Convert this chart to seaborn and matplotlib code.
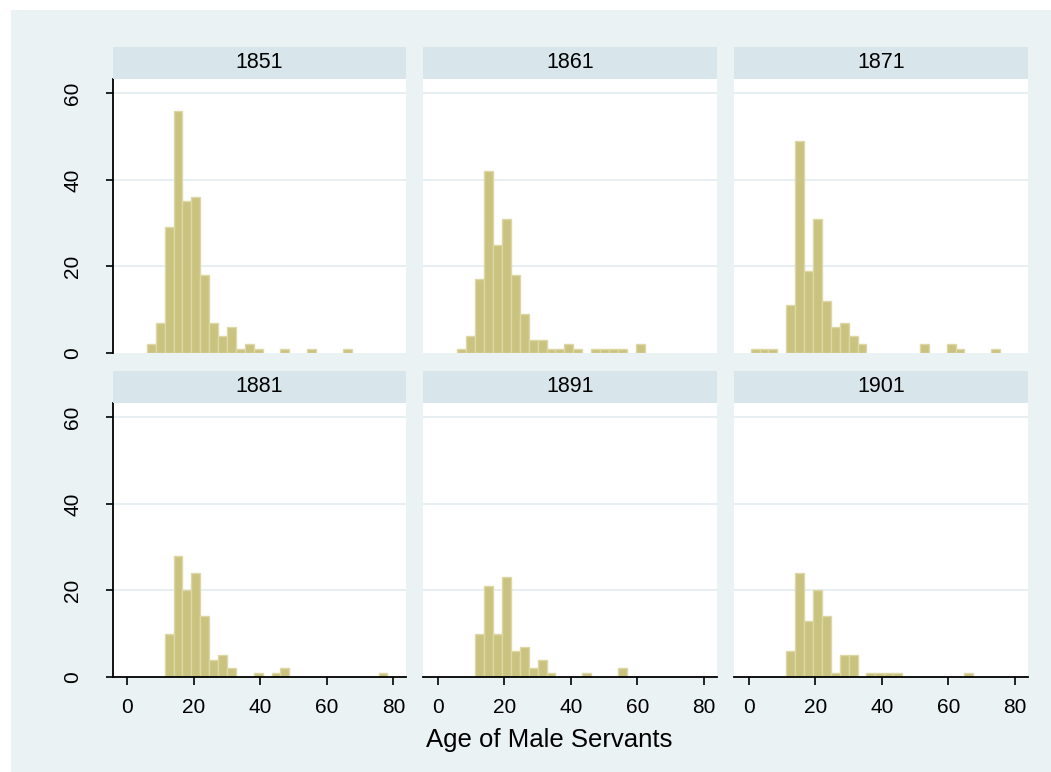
import numpy as np
import pandas as pd
import matplotlib
matplotlib.use("Agg")
import matplotlib.pyplot as plt
import seaborn as sns
from matplotlib.patches import Rectangle

# ---------------- data ----------------
years = [1851, 1861, 1871, 1881, 1891, 1901]
bin_start = 0.5
bin_width = 2.68
n_bins = 29

counts_1851 = [0, 0, 2, 7, 29, 56, 35, 36, 18, 7, 4, 6, 1, 2, 1, 0, 0, 1, 0, 0, 1, 0, 0, 0, 1, 0, 0, 0, 0]
counts_1861 = [0, 0, 1, 4, 17, 42, 25, 31, 18, 9, 3, 3, 1, 1, 2, 1, 0, 1, 1, 1, 1, 0, 2, 0, 0, 0, 0, 0, 0]
counts_1871 = [1, 1, 1, 0, 11, 49, 19, 31, 12, 6, 7, 4, 2, 0, 0, 0, 0, 0, 0, 2, 0, 0, 2, 1, 0, 0, 0, 1, 0]
counts_1881 = [0, 0, 0, 0, 10, 28, 20, 24, 14, 4, 5, 2, 0, 0, 1, 0, 1, 2, 0, 0, 0, 0, 0, 0, 0, 0, 0, 0, 1]
counts_1891 = [0, 0, 0, 0, 10, 21, 10, 23, 6, 7, 2, 4, 1, 0, 0, 0, 1, 0, 0, 0, 2, 0, 0, 0, 0, 0, 0, 0, 0]
counts_1901 = [0, 0, 0, 0, 6, 24, 13, 20, 14, 1, 5, 5, 0, 1, 1, 1, 1, 0, 0, 0, 0, 0, 0, 0, 1, 0, 0, 0, 0]

x_ticks = [0, 20, 40, 60, 80]
y_ticks = [0, 20, 40, 60]
x_label = "Age of Male Servants"

all_counts = [counts_1851, counts_1861, counts_1871, counts_1881, counts_1891, counts_1901]

edges = [bin_start + k * bin_width for k in range(n_bins + 1)]
centers = [(edges[k] + edges[k + 1]) / 2 for k in range(n_bins)]

rows = []
for yr, cnts in zip(years, all_counts):
    for c, n in zip(centers, cnts):
        rows.append({"year": yr, "age": c, "count": n})
df = pd.DataFrame(rows)

# ---------------- style ----------------
sns.set_theme(style="white")
plt.rcParams["font.family"] = ["Liberation Sans", "DejaVu Sans"]
plt.rcParams["text.color"] = "black"
plt.rcParams["xtick.color"] = "black"
plt.rcParams["ytick.color"] = "black"
plt.rcParams["xtick.labelcolor"] = "black"
plt.rcParams["ytick.labelcolor"] = "black"

outer_bg = "#EAF2F3"
strip_bg = "#D8E5EA"
grid_col = "#E6EEF1"
bar_col = "#CAC27F"
bar_edge = "#DDD7A6"

g = sns.FacetGrid(df, col="year", col_wrap=3, sharex=True, sharey=True,
                  height=3, aspect=1, despine=False)
g.map_dataframe(sns.histplot, x="age", weights="count", bins=edges,
                color=bar_col, edgecolor=bar_edge, linewidth=1.0, alpha=1.0)

fig = g.figure
fig.set_size_inches(10.51, 7.72)
fig.set_dpi(100)
fig.patch.set_facecolor("white")

W, H = 1051.0, 772.0
fig.patches.append(Rectangle((11 / W, -0.02), 1.05 - 11 / W, (H - 10) / H + 0.02,
                             transform=fig.transFigure, facecolor=outer_bg,
                             edgecolor="none", zorder=-10))

col_left = [112.7, 423.3, 734.3]
ax_w = 293.3
row_top = [79.0, 403.0]
ax_h = 274.0
strip_h = 32.0

g.set_titles("")
g.set_axis_labels("", "")

for i, ax in enumerate(g.axes.flat):
    r, c = divmod(i, 3)
    left = col_left[c] / W
    bottom = (H - row_top[r] - ax_h) / H
    ax.set_position([left, bottom, ax_w / W, ax_h / H])
    ax.set_facecolor("white")
    ax.set_xlim(-4.4, 83.8)
    ax.set_ylim(0, 63.3)
    ax.set_xticks(x_ticks)
    ax.set_yticks(y_ticks)
    # hide empty bins
    for p in ax.patches:
        if p.get_height() <= 0:
            p.set_visible(False)
    # gridlines
    for yv in y_ticks[1:]:
        ax.axhline(yv, color=grid_col, lw=1.3, zorder=0)
    ax.set_axisbelow(True)
    for s in ax.spines.values():
        s.set_visible(False)
    ax.spines["left"].set_visible(c == 0)
    ax.spines["left"].set_color("black")
    ax.spines["left"].set_linewidth(1.3)
    ax.spines["bottom"].set_visible(r == 1)
    ax.spines["bottom"].set_color("black")
    ax.spines["bottom"].set_linewidth(1.3)

    ax.tick_params(axis="y", left=(c == 0), labelleft=(c == 0), length=5,
                   width=1.2, color="black", labelcolor="black", labelsize=15,
                   pad=17, labelrotation=90)
    for lab in ax.get_yticklabels():
        lab.set_va("center")
    ax.tick_params(axis="x", bottom=(r == 1), labelbottom=(r == 1), length=6,
                   width=1.2, color="black", labelcolor="black", labelsize=15,
                   pad=9)
    ax.set_xlabel("")
    ax.set_ylabel("")
    ax.set_title("")

    # strip
    ax.add_patch(Rectangle((0, 1), 1, strip_h / ax_h, transform=ax.transAxes,
                           facecolor=strip_bg, edgecolor="none", clip_on=False,
                           zorder=3))
    ax.text(0.5, 1 + strip_h / ax_h / 2, str(years[i]), transform=ax.transAxes,
            ha="center", va="center", fontsize=15.5, color="black")

fig.text(549.5 / W, 1 - 740 / H, x_label, ha="center", va="center",
         fontsize=18.5, color="black")

fig.savefig("out.png", dpi=100, facecolor=fig.get_facecolor())
